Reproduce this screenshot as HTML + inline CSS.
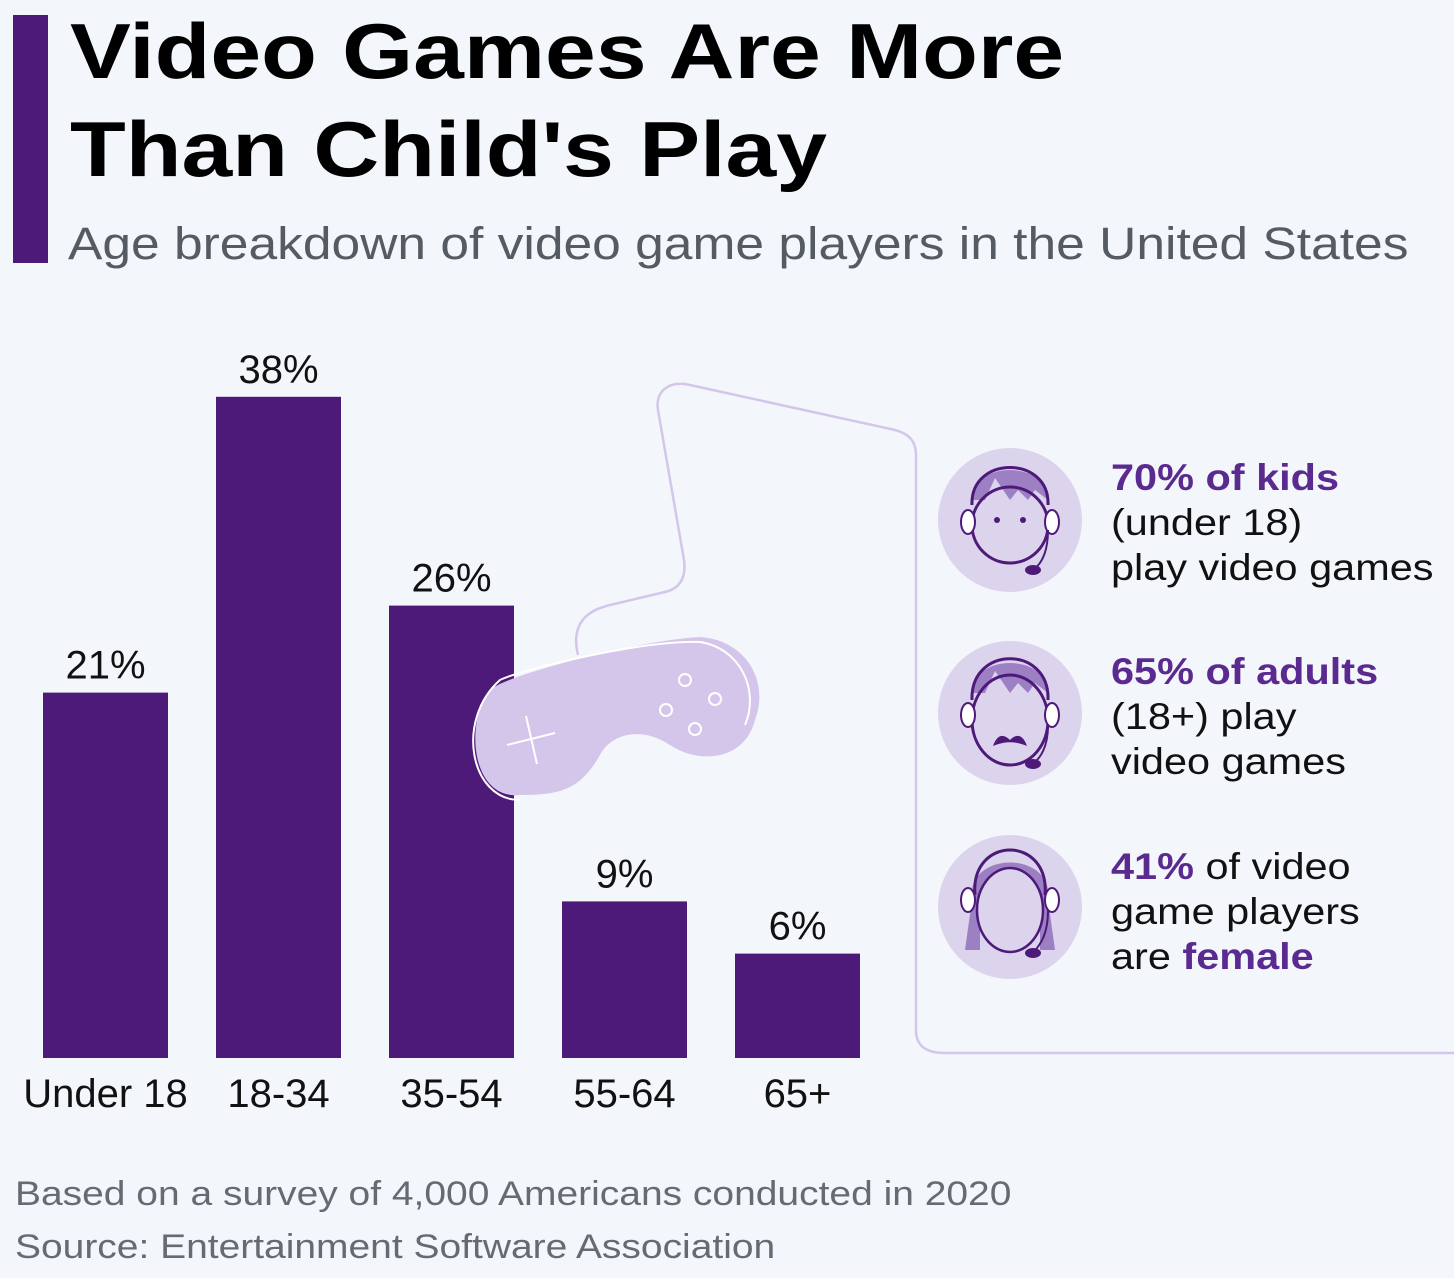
<!DOCTYPE html>
<html><head><meta charset="utf-8">
<style>
body{margin:0;width:1454px;height:1278px;background:#f3f6fa;font-family:"Liberation Sans","DejaVu Sans",sans-serif;overflow:hidden;position:relative}
.t{position:absolute;white-space:nowrap;transform-origin:0 0}
</style></head><body>
<div style="position:absolute;left:13px;top:15px;width:35px;height:248px;background:#4e1a7a"></div>
<div class="t" style="left:70px;top:2px;font-size:78px;font-weight:bold;line-height:98px;color:#000;transform:scaleX(1.17)">Video Games Are More<br>Than Child's Play</div>
<div class="t" style="left:68px;top:218px;font-size:45px;color:#555b63;transform:scaleX(1.145)">Age breakdown of video game players in the United States</div>
<svg id="chart" width="1454" height="1278" style="position:absolute;left:0;top:0">
<path d="M578 655 C572 630 580 612 610 605 L665 592 C682 588 686 575 684 560 L658 410 C655 392 668 380 690 385 L895 430 C910 434 916 442 916 455 L916 1030 C916 1045 925 1053 945 1053 L1454 1053" fill="none" stroke="#d4c6ea" stroke-width="2.5"/>
<g id="bars"></g>
<g>
<path d="M520 795 C470 800 465 720 490 690 C505 675 640 640 700 637 C745 640 770 680 755 720 C745 760 700 765 670 745 C640 725 610 735 600 755 C580 790 560 795 520 795 Z" fill="#d4c6ea"/>
<path d="M520 800 C470 800 455 720 500 680 C520 670 640 640 700 642 C740 648 760 690 745 725" fill="none" stroke="#fff" stroke-width="2"/>
<line x1="507" y1="745" x2="555" y2="733" stroke="#fff" stroke-width="2"/>
<line x1="526" y1="716" x2="537" y2="764" stroke="#fff" stroke-width="2"/>
<g fill="none" stroke="#fff" stroke-width="2"><circle cx="685" cy="680" r="6"/><circle cx="715" cy="699" r="6"/><circle cx="666" cy="710" r="6"/><circle cx="695" cy="729" r="6"/></g>
</g>
<g><circle cx="1010" cy="520" r="72" fill="#dcd3ec"/><path d="M972 500 C972 460 1048 460 1048 500 L1035 490 1028 500 1018 490 1010 500 995 478 985 500Z" fill="#9d80c4"/><circle cx="1010" cy="525" r="38" fill="none" stroke="#4e1a7a" stroke-width="3"/><path d="M972 505 C970 455 1050 455 1048 505" fill="none" stroke="#4e1a7a" stroke-width="3"/><circle cx="997" cy="520" r="3" fill="#4e1a7a"/><circle cx="1023" cy="520" r="3" fill="#4e1a7a"/><ellipse cx="968" cy="522" rx="7" ry="12" fill="#fff" stroke="#4e1a7a" stroke-width="2"/><ellipse cx="1052" cy="522" rx="7" ry="12" fill="#fff" stroke="#4e1a7a" stroke-width="2"/><path d="M1048 530 C1048 555 1040 565 1033 570" fill="none" stroke="#4e1a7a" stroke-width="2"/><ellipse cx="1033" cy="570" rx="8" ry="5" fill="#4e1a7a"/></g>
<g><circle cx="1010" cy="713" r="72" fill="#dcd3ec"/><path d="M972 693 C972 653 1048 653 1048 693 L1035 683 1028 693 1018 683 1010 693 995 671 985 693Z" fill="#9d80c4"/><ellipse cx="1010" cy="720" rx="38" ry="45" fill="none" stroke="#4e1a7a" stroke-width="3"/><path d="M972 700 C970 645 1050 645 1048 700" fill="none" stroke="#4e1a7a" stroke-width="3"/><path d="M993 746 C998 732 1005 735 1010 740 C1015 735 1022 732 1027 746 C1015 741 1005 741 993 746Z" fill="#4e1a7a"/><ellipse cx="968" cy="715" rx="7" ry="12" fill="#fff" stroke="#4e1a7a" stroke-width="2"/><ellipse cx="1052" cy="715" rx="7" ry="12" fill="#fff" stroke="#4e1a7a" stroke-width="2"/><path d="M1048 725 C1048 748 1040 758 1033 764" fill="none" stroke="#4e1a7a" stroke-width="2"/><ellipse cx="1033" cy="764" rx="8" ry="5" fill="#4e1a7a"/></g>
<g><circle cx="1010" cy="907" r="72" fill="#dcd3ec"/><path d="M972 900 C965 850 1055 850 1048 900 L1055 950 1040 950 1040 890 C1020 880 1000 885 980 895 L980 950 965 950Z" fill="#9d80c4"/><ellipse cx="1010" cy="910" rx="33" ry="42" fill="#dcd3ec" stroke="#4e1a7a" stroke-width="2.5"/><path d="M975 895 C970 835 1050 835 1045 895" fill="none" stroke="#4e1a7a" stroke-width="3"/><ellipse cx="968" cy="900" rx="7" ry="12" fill="#fff" stroke="#4e1a7a" stroke-width="2"/><ellipse cx="1052" cy="900" rx="7" ry="12" fill="#fff" stroke="#4e1a7a" stroke-width="2"/><path d="M1048 910 C1048 935 1040 945 1033 953" fill="none" stroke="#4e1a7a" stroke-width="2"/><ellipse cx="1033" cy="953" rx="8" ry="5" fill="#4e1a7a"/></g>
</svg>
<div class="t" style="left:1111px;top:455px;font-size:37px;line-height:45px;color:#111;transform:scaleX(1.12)"><b style="color:#5b2a90">70% of kids</b><br>(under 18)<br>play video games</div>
<div class="t" style="left:1111px;top:649px;font-size:37px;line-height:45px;color:#111;transform:scaleX(1.12)"><b style="color:#5b2a90">65% of adults</b><br>(18+) play<br>video games</div>
<div class="t" style="left:1111px;top:844px;font-size:37px;line-height:45px;color:#111;transform:scaleX(1.12)"><b style="color:#5b2a90">41%</b> of video<br>game players<br>are <b style="color:#5b2a90">female</b></div>
<div class="t" style="left:15px;top:1168px;font-size:34px;line-height:53px;color:#666b72;transform:scaleX(1.146)">Based on a survey of 4,000 Americans conducted in 2020<br>Source: Entertainment Software Association</div>
<script>
const categories=["Under 18","18-34","35-54","55-64","65+"];
const values=[21,38,26,9,6];
const ns="http://www.w3.org/2000/svg";
const baseY=1058, pxPer=17.4, x0=43, step=173, bw=125;
const y=v=>baseY-v*pxPer;
const g=document.getElementById('bars');
categories.forEach((c,i)=>{
  const x=x0+i*step;
  const r=document.createElementNS(ns,'rect');
  r.setAttribute('x',x);r.setAttribute('y',y(values[i]));r.setAttribute('width',bw);r.setAttribute('height',baseY-y(values[i]));r.setAttribute('fill','#4e1a7a');
  
  
  g.appendChild(r);
  const t=document.createElementNS(ns,'text');
  t.setAttribute('x',x+bw/2);t.setAttribute('y',y(values[i])-14);t.setAttribute('text-anchor','middle');t.setAttribute('font-size','40');t.setAttribute('fill','#111');
  t.textContent=values[i]+'%';
  
  
  g.appendChild(t);
  const l=document.createElementNS(ns,'text');
  l.setAttribute('x',x+bw/2);l.setAttribute('y',1107);l.setAttribute('text-anchor','middle');l.setAttribute('font-size','40');l.setAttribute('fill','#111');
  l.textContent=c;
  
  
  g.appendChild(l);
});
</script>
</body></html>
